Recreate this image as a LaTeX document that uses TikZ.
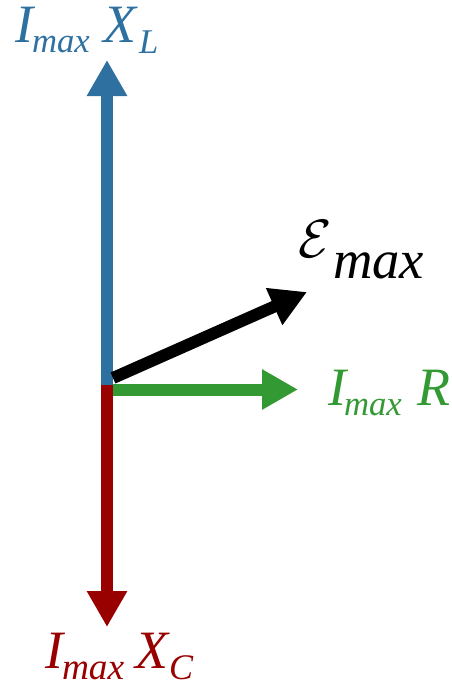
\documentclass[tikz,border=0pt]{standalone}
\usepackage{fontspec}
\setmainfont{Liberation Serif}[ItalicFont={Liberation Serif Italic}]
\newfontfamily\tnr{Liberation Serif}[ItalicFont={Liberation Serif Italic}]
\usetikzlibrary{arrows.meta}
\definecolor{cblue}{RGB}{46,112,160}
\definecolor{cred}{RGB}{153,0,0}
\definecolor{cgreen}{RGB}{51,153,51}
\newcommand{\fsz}[1]{\fontsize{#1}{#1}\selectfont}
\tikzset{
  vec/.style={line width=9pt, -{Triangle[length=27pt,width=28.5pt]}},
  lbl/.style={anchor=base west, inner sep=0pt, outer sep=0pt},
  big/.style={lbl, font=\tnr\fsz{40.5pt}\itshape},
  small/.style={lbl, font=\tnr\fsz{26pt}\itshape},
}
\begin{document}
\begin{tikzpicture}[x=0.75pt,y=-0.75pt]
\useasboundingbox (0,0) rectangle (452,685);
% phasor origin and tips
\coordinate (O) at (107,385);
\coordinate (OG) at (113,389.5);
\coordinate (OE) at (113,378);
\coordinate (TL) at (107,60);
\coordinate (TC) at (107,627);
\coordinate (TR) at (298,389.5);
\coordinate (TE) at (307,292);
% vectors
\draw[vec, cblue] (O) -- (TL);
\draw[vec, cred] (O) -- (TC);
\draw[vec, cgreen] (OG) -- (TR);
\draw[vec, black] (OE) -- (TE);
% label: I_max X_L
\node[big, text=cblue] (lI) at (15,43) {I};
\node[small, text=cblue] (lmax) at (32,53) {max};
\node[big, text=cblue] (lX) at (103,43) {X};
\node[small, text=cblue] (lL) at (139,54) {L};
% label: I_max R
\node[big, text=cgreen] (rI) at (328,405) {I};
\node[small, text=cgreen] (rmax) at (344,415) {max};
\node[big, text=cgreen] (rR) at (417,405) {R};
% label: I_max X_C
\node[big, text=cred] (cI) at (45,668) {I};
\node[lbl, text=cred, font=\tnr\fsz{28pt}\itshape] (cmax) at (62,679) {max};
\node[big, text=cred] (cX) at (135,668) {X};
\node[lbl, text=cred, font=\tnr\fsz{27pt}\itshape] (cC) at (169,679) {C};
% label: E_max
\node[lbl] (eE) at (298,257) {\scalebox{4.05}{$\mathcal{E}$}};
\node[lbl, font=\tnr\fsz{41pt}\itshape] (emax) at (333,278) {max};
\end{tikzpicture}
\end{document}
